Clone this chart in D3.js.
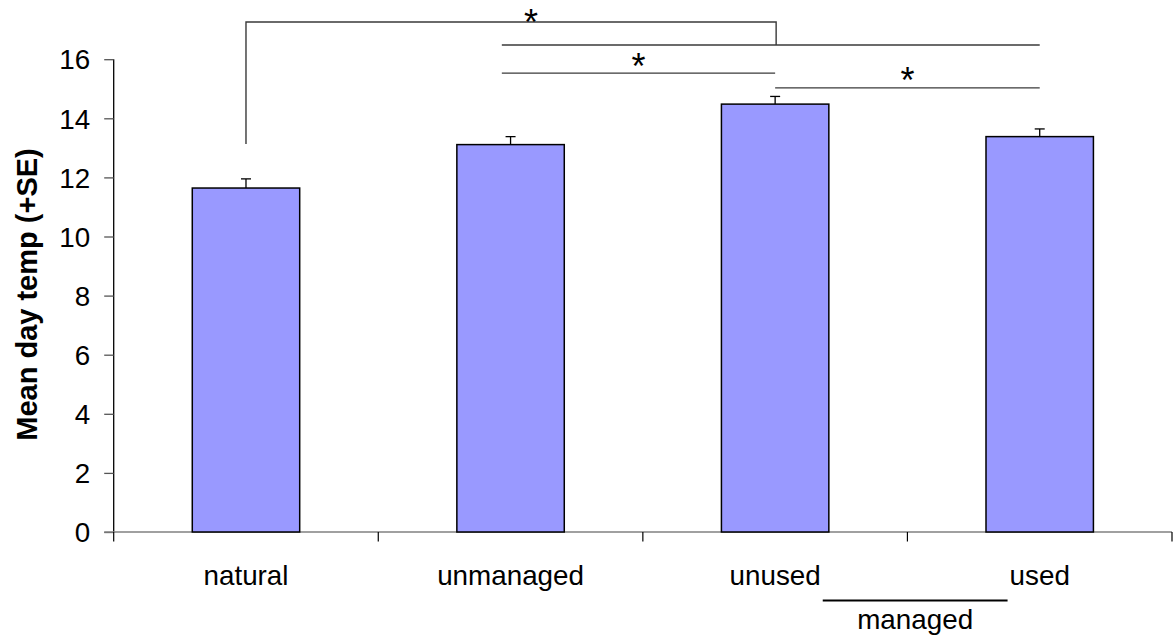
<!DOCTYPE html>
<html>
<head>
<meta charset="utf-8">
<script src="https://cdn.jsdelivr.net/npm/d3@7"></script>
<style>
  html, body { margin: 0; padding: 0; background: #fff; }
  svg { display: block; font-family: "Liberation Sans", Arial, sans-serif; }
</style>
</head>
<body>
<svg id="chart" width="1174" height="643"></svg>
<script>
// Mean day temperature by site type, with standard error
const categories = ["natural", "unmanaged", "unused", "used"];
const meanTemp = [11.64, 13.11, 14.48, 13.38];
const stdErr = [0.31, 0.27, 0.26, 0.26];
const yTicks = [0, 2, 4, 6, 8, 10, 12, 14, 16];

// Significance brackets: from/to categories and line heights (in °C units)
const brackets = [
  { from: "unmanaged", to: "used", level: 16.48, label: "" },
  { from: "unmanaged", to: "unused", level: 15.53, label: "*" },
  { from: "unused", to: "used", level: 15.03, label: "*" }
];
// Natural compared against the group bracket above
const natBracket = { from: "natural", to: "unused", start: 13.13, level: 17.26, join: 16.48, label: "*" };

// Grouping label under the axis
const groupLabel = { text: "managed", members: ["unused", "used"] };

const svg = d3.select("#chart");
const plotLeft = 113.7, plotRight = 1172, plotTop = 59.2, plotBottom = 532;

const x = d3.scaleBand().domain(categories).range([plotLeft, plotRight]).paddingInner(0).paddingOuter(0);
const y = d3.scaleLinear().domain([0, 16]).range([plotBottom, plotTop]);
const bw = x.bandwidth() * 0.406;
const cx = c => x(c) + x.bandwidth() / 2;

const lineCol = "#3a3a3a";
const labelSize = 27.8;

// Y axis
const yAxis = d3.axisLeft(y).tickValues(yTicks).tickSize(9.5).tickPadding(14).tickFormat(d3.format("d"));
const gy = svg.append("g").attr("transform", `translate(${plotLeft},0)`).call(yAxis);
gy.select(".domain").attr("stroke", "#000").attr("stroke-width", 1.3).attr("d", `M0,${plotTop}V${plotBottom}`);
gy.selectAll(".tick line").attr("stroke", "#555").attr("stroke-width", 1.3);
gy.selectAll(".tick text").attr("font-size", labelSize).attr("fill", "#000")
  .attr("font-family", '"Liberation Sans", Arial, sans-serif').attr("dy", "0.35em");

// X axis with ticks at band boundaries
const boundaries = categories.map(c => x(c)).concat([plotRight]);
svg.append("line").attr("x1", plotLeft - 9.5).attr("x2", plotRight).attr("y1", plotBottom).attr("y2", plotBottom)
  .attr("stroke", "#808080").attr("stroke-width", 1.5);
svg.selectAll(".xtick").data(boundaries).enter().append("line")
  .attr("x1", d => d).attr("x2", d => d).attr("y1", plotBottom).attr("y2", plotBottom + 9.5)
  .attr("stroke", "#000").attr("stroke-width", 1.2);

const catLabels = svg.selectAll(".cat").data(categories).enter().append("text")
  .attr("x", d => cx(d)).attr("y", 584.5).attr("text-anchor", "middle")
  .attr("font-size", labelSize).attr("fill", "#000").text(d => d);

// Bars
svg.selectAll(".bar").data(categories).enter().append("rect")
  .attr("x", d => cx(d) - bw / 2)
  .attr("y", (d, i) => y(meanTemp[i]))
  .attr("width", bw)
  .attr("height", (d, i) => y(0) - y(meanTemp[i]))
  .attr("fill", "#9999ff").attr("stroke", "#000").attr("stroke-width", 1.5);

// Error bars (upper only)
categories.forEach((c, i) => {
  const x0 = cx(c), y0 = y(meanTemp[i]), y1 = y(meanTemp[i] + stdErr[i]);
  svg.append("line").attr("x1", x0).attr("x2", x0).attr("y1", y0).attr("y2", y1)
    .attr("stroke", "#000").attr("stroke-width", 1.3);
  svg.append("line").attr("x1", x0 - 5).attr("x2", x0 + 5).attr("y1", y1).attr("y2", y1)
    .attr("stroke", "#000").attr("stroke-width", 1.3);
});

// Significance brackets
const bracketX = c => c === "unmanaged" ? x(c) + x.bandwidth() * 0.467 : cx(c);
brackets.forEach(b => {
  const x1 = bracketX(b.from), x2 = bracketX(b.to), yy = y(b.level);
  svg.append("line").attr("x1", x1).attr("x2", x2).attr("y1", yy).attr("y2", yy)
    .attr("stroke", lineCol).attr("stroke-width", 1.4);
  if (b.label) {
    svg.append("text").attr("x", (x1 + x2) / 2).attr("y", yy - 16.5 + 22)
      .attr("text-anchor", "middle").attr("font-size", 36).attr("fill", "#000").text(b.label);
  }
});
{
  const b = natBracket;
  const x1 = cx(b.from), x2 = cx(b.to) + 1;
  svg.append("path")
    .attr("d", `M${x1},${y(b.start)}V${y(b.level)}H${x2}V${y(b.join)}`)
    .attr("fill", "none").attr("stroke", lineCol).attr("stroke-width", 1.4);
  svg.append("text").attr("x", 531).attr("y", y(b.level) - 7 + 20)
    .attr("text-anchor", "middle").attr("font-size", 36).attr("fill", "#000").text(b.label);
}

// Group line and label under the axis
{
  const nodes = catLabels.filter(d => groupLabel.members.includes(d)).nodes();
  const bA = nodes[0].getBBox(), bB = nodes[1].getBBox();
  const gx1 = bA.x + bA.width + 2, gx2 = bB.x - 2;
  svg.append("line").attr("x1", gx1).attr("x2", gx2).attr("y1", 600.5).attr("y2", 600.5)
    .attr("stroke", "#000").attr("stroke-width", 1.8);
  svg.append("text").attr("x", (gx1 + gx2) / 2).attr("y", 629)
    .attr("text-anchor", "middle").attr("font-size", labelSize).attr("fill", "#000").text(groupLabel.text);
}

// Y axis title
svg.append("text")
  .attr("transform", "translate(37,294.5) rotate(-90)")
  .attr("text-anchor", "middle").attr("font-size", 29).attr("font-weight", "bold").attr("fill", "#000")
  .text("Mean day temp (+SE)");
</script>
</body>
</html>
